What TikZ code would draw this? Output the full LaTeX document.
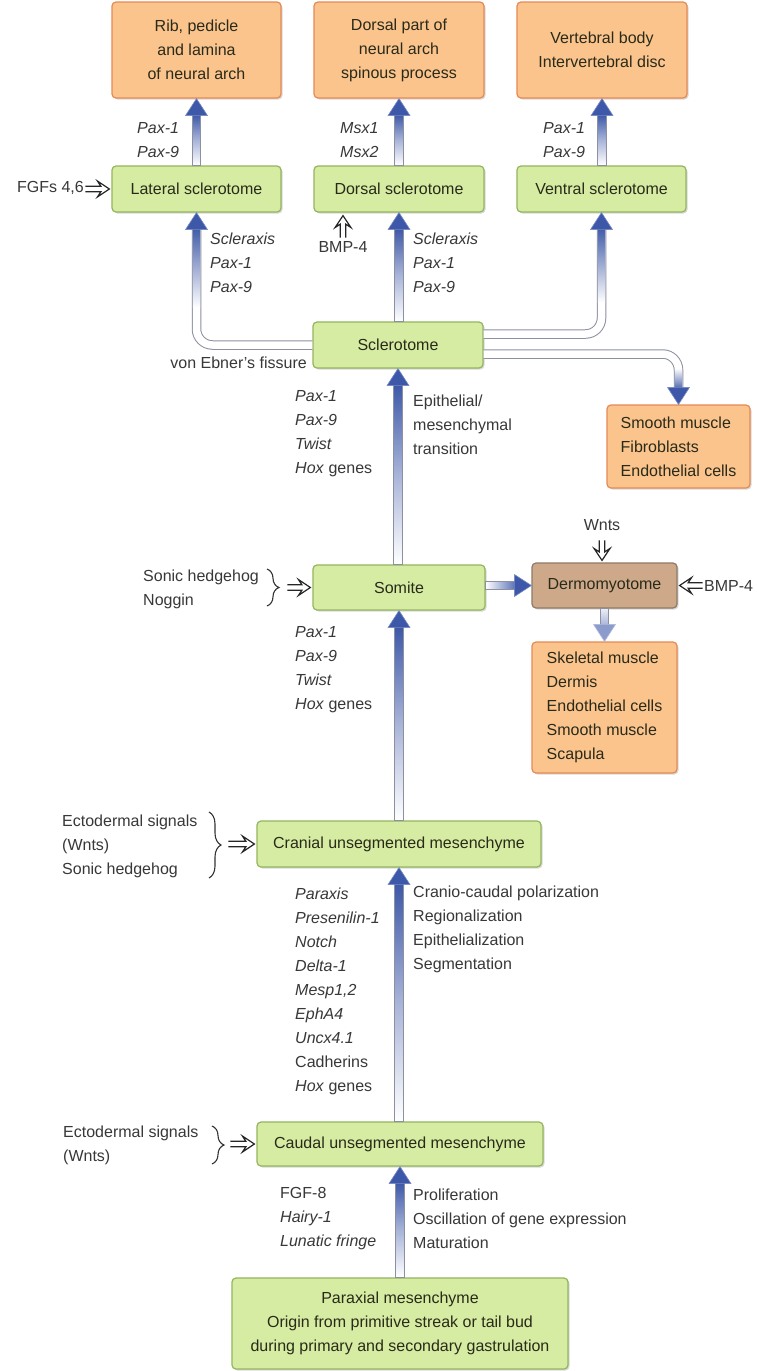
\documentclass[tikz,border=0pt]{standalone}
\usepackage{fontspec}
\setmainfont{Liberation Sans}
\usetikzlibrary{calc,shadows,arrows.meta,decorations.pathreplacing}
\definecolor{gfill}{HTML}{D5ECA2}
\definecolor{gdraw}{HTML}{93B55E}
\definecolor{ofill}{HTML}{FAC48C}
\definecolor{odraw}{HTML}{E58A55}
\definecolor{dfill}{HTML}{CDA98A}
\definecolor{ddraw}{HTML}{8E7A66}
\definecolor{pipeblue}{HTML}{3D58A8}
\definecolor{pipeedge}{HTML}{8C90A0}
\definecolor{txt}{HTML}{383838}
\definecolor{boxtxt}{HTML}{2A2A1A}
\newcommand\myfs{\fontsize{16}{24}\selectfont}
\newcommand{\headup}[1]{\filldraw[fill=pipeblue, draw=pipeblue!70, line width=0.6pt, line join=round]
    (#1) -- ($(#1)+(-11,17)$) -- ($(#1)+(11,17)$) -- cycle;}
\newcommand{\uppipe}[3][pipeblue!45]{%
  \shade[top color=pipeblue, bottom color=white, middle color=#1, draw=pipeedge, line width=0.8pt]
    ($(#3)+(-4.2,16)$) rectangle ($(#3 |- #2)+(4.2,0)$);
  \headup{#3}}
% open double-line signal arrow: #1 tip, #2 angle, #3 length
\newcommand{\sigar}[3]{%
  \draw[sigline, shift={(#1)}, rotate=#2]
    (-#3,-2.7) -- (-8.5,-2.7) -- (-12,-8) -- (0,0) -- (-12,8) -- (-8.5,2.7) -- (-#3,2.7);}
\tikzset{
  box/.style={rounded corners=4pt, line width=1.2pt, text=boxtxt, font=\myfs, align=center, inner sep=0pt,
    drop shadow={shadow xshift=1.5pt, shadow yshift=-1.5pt, opacity=0.3}},
  gbox/.style={box, draw=gdraw, fill=gfill},
  obox/.style={box, draw=odraw, fill=ofill},
  dbox/.style={box, draw=ddraw, fill=dfill},
  lbl/.style={text=txt, font=\myfs, align=left, inner sep=0pt},
  itl/.style={lbl, font=\myfs\itshape},
  sigline/.style={draw=black!85, line width=1.2pt, line join=miter},
  brc/.style={draw=black!80, line width=1.1pt, decorate, decoration={brace, amplitude=12pt}},
  pipeout/.style={draw=pipeedge, line width=9.5pt, rounded corners=16pt},
  pipein/.style={draw=white, line width=7.5pt, rounded corners=16pt},
}
\begin{document}
\begin{tikzpicture}[x=1pt, y=-1pt]
\fill[white] (0,0) rectangle (757,1371);
\useasboundingbox (0,0) rectangle (757,1371);

% boxes
\node[obox, minimum width=169pt, minimum height=96pt] (o1) at (196.5,50) {Rib, pedicle\\and lamina\\of neural arch};
\node[obox, minimum width=170pt, minimum height=96pt] (o2) at (399,50) {Dorsal part of\\neural arch\\spinous process};
\node[obox, minimum width=170pt, minimum height=96pt] (o3) at (602,50) {Vertebral body\\Intervertebral disc};
\node[gbox, minimum width=169pt, minimum height=46pt] (lat) at (196.5,189) {Lateral sclerotome};
\node[gbox, minimum width=170pt, minimum height=46pt] (dor) at (399,189) {Dorsal sclerotome};
\node[gbox, minimum width=169pt, minimum height=46pt] (ven) at (601.5,189) {Ventral sclerotome};
\node[gbox, minimum width=170pt, minimum height=46pt] (scl) at (398,345) {Sclerotome};
\node[obox, minimum width=143pt, minimum height=83pt, align=left] (smo) at (678.5,446.5) {Smooth muscle\\Fibroblasts\\Endothelial cells};
\node[gbox, minimum width=172pt, minimum height=45pt] (som) at (399,587.5) {Somite};
\node[dbox, minimum width=145pt, minimum height=45pt] (der) at (604.5,585.5) {Dermomyotome};
\node[obox, minimum width=145pt, minimum height=131pt, align=left] (ske) at (604.5,707.5) {Skeletal muscle\\Dermis\\Endothelial cells\\Smooth muscle\\Scapula};
\node[gbox, minimum width=284pt, minimum height=46pt] (cra) at (399,844) {Cranial unsegmented mesenchyme};
\node[gbox, minimum width=286pt, minimum height=44pt] (cau) at (400,1144) {Caudal unsegmented mesenchyme};
\node[gbox, minimum width=336pt, minimum height=91pt] (par) at (400,1323.5) {Paraxial mesenchyme\\Origin from primitive streak or tail bud\\during primary and secondary gastrulation};

% labels
\node[itl, anchor=west] (l1) at (137,140) {Pax-1\\Pax-9};
\node[itl, anchor=west] (l2) at (340,140) {Msx1\\Msx2};
\node[itl, anchor=west] (l3) at (543,140) {Pax-1\\Pax-9};
\node[lbl, anchor=east] (fgf) at (84,188) {FGFs 4,6};
\node[itl, anchor=west] (l4) at (210,263) {Scleraxis\\Pax-1\\Pax-9};
\node[itl, anchor=west] (l5) at (413,263) {Scleraxis\\Pax-1\\Pax-9};
\node[lbl] (bmpa) at (343,247) {BMP-4};
\node[lbl, anchor=east] (veb) at (307,363) {von Ebner’s fissure};
\node[lbl, anchor=west] (l6) at (295,434) {\textit{Pax-1}\\\textit{Pax-9}\\\textit{Twist}\\\textit{Hox} genes};
\node[lbl, anchor=west] (l7) at (413,425) {Epithelial/\\mesenchymal\\transition};
\node[lbl, anchor=west] (shh) at (143,589) {Sonic hedgehog\\Noggin};
\node[lbl, anchor=west] (l8) at (295,670) {\textit{Pax-1}\\\textit{Pax-9}\\\textit{Twist}\\\textit{Hox} genes};
\node[lbl] (wnt) at (602,525) {Wnts};
\node[lbl, anchor=west] (bmpb) at (704,586) {BMP-4};
\node[lbl, anchor=west] (ecta) at (62,846) {Ectodermal signals\\(Wnts)\\Sonic hedgehog};
\node[lbl, anchor=west] (l9) at (295,991) {\textit{Paraxis}\\\textit{Presenilin-1}\\\textit{Notch}\\\textit{Delta-1}\\\textit{Mesp1,2}\\\textit{EphA4}\\\textit{Uncx4.1}\\Cadherins\\\textit{Hox} genes};
\node[lbl, anchor=west] (l10) at (413,929) {Cranio-caudal polarization\\Regionalization\\Epithelialization\\Segmentation};
\node[lbl, anchor=west] (ectb) at (63,1145) {Ectodermal signals\\(Wnts)};
\node[lbl, anchor=west] (l11) at (280,1219) {FGF-8\\\textit{Hairy-1}\\\textit{Lunatic fringe}};
\node[lbl, anchor=west] (l12) at (413,1219) {Proliferation\\Oscillation of gene expression\\Maturation};

% straight pipes
\uppipe{lat.north}{o1.south}
\uppipe{dor.north}{o2.south}
\uppipe{ven.north}{o3.south}
\uppipe{scl.north}{dor.south}
\uppipe{som.north}{scl.south}
\uppipe{cra.north}{som.south}
\uppipe{cau.north}{cra.south}
\uppipe{par.north}{cau.south}

% curved pipes
\draw[pipeout] (scl.west) -| ($(lat.south)+(0,15)$);
\draw[pipein] (scl.west) -| ($(lat.south)+(0,15)$);
\shade[top color=pipeblue, bottom color=white] ($(lat.south)+(-3.7,14)$) rectangle ($(lat.south)+(3.7,95)$);
\headup{lat.south}

\draw[pipeout] ([yshift=11pt]scl.east) -| ($(ven.south)+(0,15)$);
\draw[pipein] ([yshift=11pt]scl.east) -| ($(ven.south)+(0,15)$);
\shade[top color=pipeblue, bottom color=white] ($(ven.south)+(-3.7,14)$) rectangle ($(ven.south)+(3.7,90)$);
\headup{ven.south}

\draw[pipeout] ([yshift=-9pt]scl.east) -| ($(smo.north)+(0,-15)$);
\draw[pipein] ([yshift=-9pt]scl.east) -| ($(smo.north)+(0,-15)$);
\shade[top color=white, bottom color=pipeblue] ($(smo.north)+(-3.7,-14)$) rectangle ($(smo.north)+(3.7,-36)$);
\filldraw[fill=pipeblue, draw=pipeblue!70, line width=0.6pt, line join=round]
  (smo.north) -- ($(smo.north)+(-11,-17)$) -- ($(smo.north)+(11,-17)$) -- cycle;

% somite -> dermomyotome
\shade[left color=white, right color=pipeblue!85, draw=pipeedge, line width=0.8pt]
  ($(som.east |- der.west)+(0,-4.2)$) rectangle ($(der.west)+(-16,4.2)$);
\filldraw[fill=pipeblue, draw=pipeblue!70, line width=0.6pt, line join=round]
  (der.west) -- ($(der.west)+(-17,-11)$) -- ($(der.west)+(-17,11)$) -- cycle;

% dermomyotome -> skeletal muscle
\shade[top color=pipeblue!10, bottom color=pipeblue!45, draw=pipeedge, line width=0.8pt]
  ($(der.south)+(-4.2,0)$) rectangle ($(ske.north)+(4.2,-16)$);
\filldraw[fill=pipeblue!60, draw=pipeblue!40, line width=0.6pt, line join=round]
  (ske.north) -- ($(ske.north)+(-11,-17)$) -- ($(ske.north)+(11,-17)$) -- cycle;

% signal arrows
\sigar{$(lat.west)+(-2,0)$}{0}{24}
\sigar{$(bmpa.north |- dor.south)+(0,3)$}{90}{22}
\sigar{$(wnt.south |- der.north)+(0,-2)$}{-90}{20}
\sigar{$(der.east)+(2,0)$}{180}{23}

% braces
\draw[brc] (267,569) -- (267,606);
\sigar{$(som.west)+(-2,0)$}{0}{23}
\draw[brc] (209,812) -- (209,878);
\sigar{$(cra.west)+(-2,0)$}{0}{26}
\draw[brc] (212,1126) -- (212,1164);
\sigar{$(cau.west)+(-2,0)$}{0}{24}
\end{tikzpicture}
\end{document}
